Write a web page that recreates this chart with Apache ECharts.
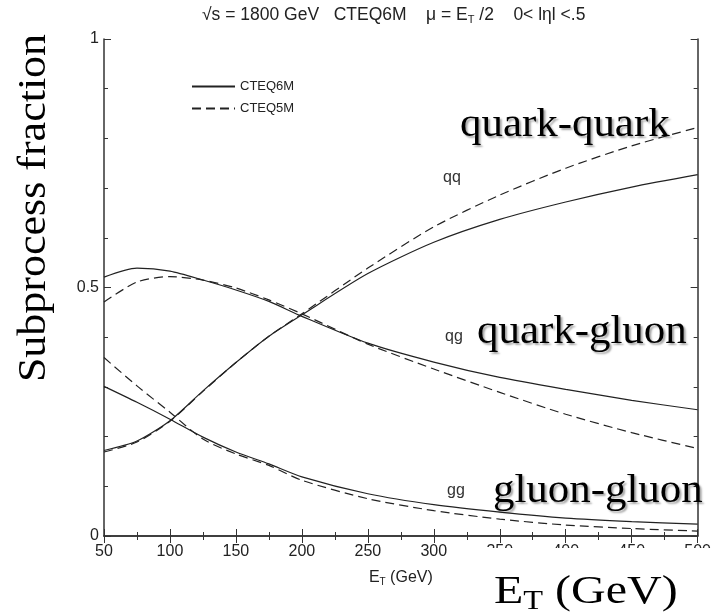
<!DOCTYPE html>
<html>
<head>
<meta charset="utf-8">
<script src="https://cdn.jsdelivr.net/npm/echarts@6/dist/echarts.min.js"></script>
<style>html,body{margin:0;padding:0;background:#fff}#c{width:714px;height:613px}</style>
</head>
<body>
<div id="c"></div>
<script>
var xVals = [50, 75, 100, 125, 150, 175, 200, 250, 300, 350, 400, 450, 500];
var qq6 = [0.172, 0.191, 0.232, 0.292, 0.349, 0.402, 0.445, 0.528, 0.591, 0.637, 0.672, 0.702, 0.727];
var qq5 = [0.169, 0.189, 0.231, 0.291, 0.349, 0.402, 0.447, 0.539, 0.622, 0.686, 0.740, 0.785, 0.822];
var qg6 = [0.521, 0.539, 0.533, 0.515, 0.495, 0.472, 0.442, 0.388, 0.350, 0.319, 0.295, 0.273, 0.254];
var qg5 = [0.471, 0.511, 0.522, 0.515, 0.499, 0.475, 0.447, 0.386, 0.336, 0.289, 0.245, 0.208, 0.176];
var gg6 = [0.301, 0.269, 0.235, 0.199, 0.169, 0.145, 0.119, 0.085, 0.063, 0.048, 0.036, 0.029, 0.024];
var gg5 = [0.359, 0.302, 0.249, 0.195, 0.165, 0.142, 0.112, 0.075, 0.051, 0.034, 0.022, 0.015, 0.010];
var yTickLabels = ['0', '0.5', '1'];
var xTickLabels = ['50', '100', '150', '200', '250', '300', '350', '400', '450', '500'];

var SANS = '"Liberation Sans", Arial, sans-serif';
var SERIF = '"Liberation Serif", "Times New Roman", serif';
var INK = '#222';

function pairs(ys) { return xVals.map(function (x, i) { return [x, ys[i]]; }); }
function mkSeries(name, ys, dashed) {
  return {
    type: 'line', name: name, data: pairs(ys), symbol: 'none', smooth: 0.25,
    lineStyle: { color: INK, width: 1.2, type: dashed ? [9, 5] : 'solid' },
    itemStyle: { color: INK }, z: 3
  };
}
var axisLine = { show: true, lineStyle: { color: '#333', width: 1.5 } };
function xAx(pos, labels) {
  return {
    type: 'value', position: pos, min: 50, max: 500, interval: 50,
    axisLine: axisLine,
    axisTick: { show: true, inside: true, length: 7, lineStyle: { color: '#333', width: 1 } },
    minorTick: { show: true, splitNumber: 2, length: 4, lineStyle: { color: '#333', width: 1 } },
    splitLine: { show: false }, minorSplitLine: { show: false },
    axisLabel: labels ? {
      show: true, fontFamily: SANS, fontSize: 16, color: INK, margin: 8,
      formatter: function (v) { var i = xTickLabels.indexOf(String(v)); return i >= 0 ? xTickLabels[i] : ''; }
    } : { show: false },
    name: labels ? 'E{sub|T} (GeV)' : '',
    nameLocation: 'middle', nameGap: 33,
    nameTextStyle: { fontFamily: SANS, fontSize: 16, color: INK, rich: { sub: { fontFamily: SANS, fontSize: 10, padding: [8, 0, 0, 0], color: INK } } }
  };
}
function yAx(pos, labels) {
  return {
    type: 'value', position: pos, min: 0, max: 1, interval: 0.5,
    axisLine: axisLine,
    axisTick: { show: true, inside: true, length: 7, lineStyle: { color: '#333', width: 1 } },
    minorTick: { show: true, splitNumber: 5, length: 4, lineStyle: { color: '#333', width: 1 } },
    splitLine: { show: false }, minorSplitLine: { show: false },
    axisLabel: labels ? {
      show: true, fontFamily: SANS, fontSize: 16, color: INK, margin: 5,
      formatter: function (v) { return yTickLabels[Math.round(v * 2)]; }
    } : { show: false }
  };
}
var bigStyle = function (txt) {
  return {
    text: txt, fontFamily: SERIF, fontSize: 39, fill: '#000',
    textShadowColor: 'rgba(0,0,0,0.35)', textShadowOffsetX: 2, textShadowOffsetY: 2, textShadowBlur: 2,
    align: 'left', verticalAlign: 'middle'
  };
};

var chart = echarts.init(document.getElementById('c'), null, { renderer: 'canvas' });
chart.setOption({
  animation: false,
  backgroundColor: '#fff',
  title: {
    text: '√s = 1800 GeV   CTEQ6M    μ = E{sub|T} /2    0< lηl <.5',
    left: 202, top: 6, padding: 0,
    textStyle: { fontFamily: SANS, fontSize: 17.5, fontWeight: 'normal', color: INK,
      rich: { sub: { fontFamily: SANS, fontSize: 11, padding: [8, 0, 0, 0], color: INK } } }
  },
  grid: { left: 104, right: 12, top: 39, bottom: 77, containLabel: false },
  legend: {
    data: ['CTEQ6M', 'CTEQ5M'], orient: 'vertical', left: 191, top: 80, padding: 0,
    itemWidth: 43, itemHeight: 14, itemGap: 9,
    itemStyle: { color: 'rgba(0,0,0,0)', borderWidth: 0, opacity: 0 },
    textStyle: { fontFamily: SANS, fontSize: 13, color: INK }, selectedMode: false
  },
  xAxis: [xAx('bottom', true), xAx('top', false)],
  yAxis: [yAx('left', true), yAx('right', false)],
  series: [
    mkSeries('CTEQ6M', qq6, false), mkSeries('CTEQ5M', qq5, true),
    mkSeries('CTEQ6M', qg6, false), mkSeries('CTEQ5M', qg5, true),
    mkSeries('CTEQ6M', gg6, false), mkSeries('CTEQ5M', gg5, true)
  ],
  graphic: [
    { type: 'rect', left: 480, top: 548, shape: { width: 234, height: 26 }, style: { fill: '#fff' }, z: 100 },
    { type: 'text', x: 34, y: 208, rotation: Math.PI / 2, scaleX: 1.1,
      style: { text: 'Subprocess fraction', fontFamily: SERIF, fontSize: 40, fill: '#000', align: 'center', verticalAlign: 'middle' }, z: 50 },
    { type: 'text', x: 460, y: 126, scaleX: 1.1, style: bigStyle('quark-quark'), z: 50 },
    { type: 'text', x: 477, y: 333, scaleX: 1.1, style: bigStyle('quark-gluon'), z: 50 },
    { type: 'text', x: 493, y: 492, scaleX: 1.1, style: bigStyle('gluon-gluon'), z: 50 },
    { type: 'text', x: 494, y: 592, scaleX: 1.2, z: 50,
      style: { text: 'E{s|T} (GeV)', fontFamily: SERIF, fontSize: 40, fill: '#000', align: 'left', verticalAlign: 'middle',
        rich: { s: { fontFamily: SERIF, fontSize: 27, fill: '#000', padding: [20, 0, 0, 0] } } } },
    { type: 'text', x: 443, y: 178, style: { text: 'qq', fontFamily: SANS, fontSize: 16, fill: '#333', align: 'left', verticalAlign: 'middle' }, z: 50 },
    { type: 'text', x: 445, y: 337, style: { text: 'qg', fontFamily: SANS, fontSize: 16, fill: '#333', align: 'left', verticalAlign: 'middle' }, z: 50 },
    { type: 'text', x: 447, y: 491, style: { text: 'gg', fontFamily: SANS, fontSize: 16, fill: '#333', align: 'left', verticalAlign: 'middle' }, z: 50 }
  ]
});
</script>
</body>
</html>
